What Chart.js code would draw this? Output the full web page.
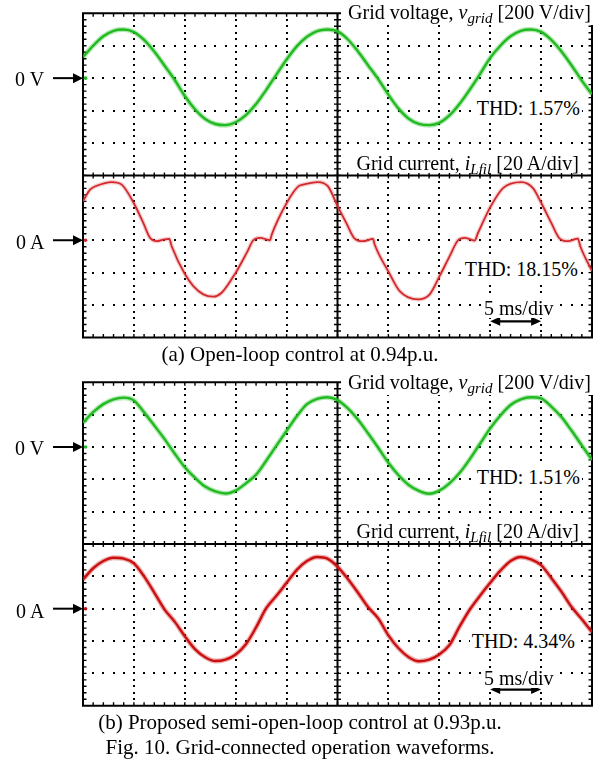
<!DOCTYPE html>
<html>
<head>
<meta charset="utf-8">
<script src="https://cdn.jsdelivr.net/npm/chart.js@4.4.1/dist/chart.umd.min.js"></script>
<style>
  html, body { margin: 0; padding: 0; background: #fff; }
  #page { position: relative; width: 606px; height: 760px; overflow: hidden;
          font-family: "Liberation Serif", "Times New Roman", serif; color: #000; background: #fff; }
  canvas { position: absolute; left: 0; }
  .t { position: absolute; font-size: 20px; line-height: 20px; white-space: nowrap; }
  .w { background: #fff; }
  .sub { font-style: italic; font-size: 15px; vertical-align: -4px; line-height: 0; }
  .cap { position: absolute; left: 0; width: 600px; text-align: center; font-size: 21px;
         line-height: 21px; white-space: nowrap; }
</style>
</head>
<body>
<div id="page">
  <canvas id="scopeA" width="606" height="365" style="top:0"></canvas>
  <canvas id="scopeB" width="606" height="395" style="top:365px"></canvas>

  <!-- (a) open-loop -->
  <div class="t" style="left:15px;top:69px">0 V</div>
  <div class="t" style="left:16px;top:232px">0 A</div>
  <div class="t w" style="right:0;top:-1px;padding:3px 15px 3px 7px">Grid voltage, <i>v</i><span class="sub">grid</span> [200 V/div]</div>
  <div class="t w" style="right:24px;top:96px;padding:2px">THD: 1.57%</div>
  <div class="t w" style="right:23px;top:151px;padding:2px 4px 0 6px">Grid current, <i>i</i><span class="sub">Lfil</span> [20 A/div]</div>
  <div class="t w" style="right:26px;top:257px;padding:2px">THD: 18.15%</div>
  <div class="t w" style="left:482px;top:298px;padding:0 2px">5 ms/div</div>
  <div class="cap" style="top:344px">(a) Open-loop control at 0.94p.u.</div>

  <!-- (b) semi-open-loop -->
  <div class="t" style="left:15px;top:438px">0 V</div>
  <div class="t" style="left:16px;top:601px">0 A</div>
  <div class="t w" style="right:0;top:369px;padding:3px 15px 3px 7px">Grid voltage, <i>v</i><span class="sub">grid</span> [200 V/div]</div>
  <div class="t w" style="right:24px;top:465px;padding:2px">THD: 1.51%</div>
  <div class="t w" style="right:23px;top:519px;padding:2px 4px 0 6px">Grid current, <i>i</i><span class="sub">Lfil</span> [20 A/div]</div>
  <div class="t w" style="right:29px;top:629px;padding:2px">THD: 4.34%</div>
  <div class="t w" style="left:482px;top:668px;padding:0 2px">5 ms/div</div>
  <div class="cap" style="top:712px">(b) Proposed semi-open-loop control at 0.93p.u.</div>
  <div class="cap" style="top:737px">Fig. 10. Grid-connected operation waveforms.</div>
</div>

<script>
// ---- sample times [ms] for the 1 ms records ----
const timeMs = [0,1,2,3,4,5,6,7,8,9,10,11,12,13,14,15,16,17,18,19,20,21,22,23,24,25,
                26,27,28,29,30,31,32,33,34,35,36,37,38,39,40,41,42,43,44,45,46,47,48,49,50];

// ---- (a) open-loop control ----
// grid voltage [V]
const vGridA = [130,200,258,292,300,284,236,164,78,-10,-110,-192,-252,-283,-290,-272,-228,-160,-72,22,
                115,196,255,290,300,288,240,166,80,-6,-102,-188,-250,-282,-290,-276,-230,-158,-70,25,
                125,200,258,292,300,285,236,165,78,-15,-100];
// filter current [A] (irregular sampling around the crossover shelves)
const tCurA = [0,0.69,1.35,2.82,3.80,4.98,5.92,6.58,7.24,7.89,8.48,8.71,10.02,10.84,11.82,12.80,13.62,15.0,
               16.08,16.73,17.39,18.37,18.54,20.01,21.15,21.61,23.08,24.07,25.02,25.86,26.69,27.50,28.49,28.65,
               30.06,31.11,32.91,34.06,35.04,36.02,36.84,37.49,38.47,38.80,40.05,41.26,43.06,44.20,45.02,
               46.00,46.83,47.64,48.62,48.85,50];
const iLfilA = [24,31.2,33.6,35.9,34.3,23,10.7,1.5,-0.6,0.4,0.8,-3.7,-21,-28.3,-33.4,-34.8,-32.4,-20,
                -7.8,0,1.5,0,3.5,23,33.2,34.3,35.9,33.2,20.9,10.7,1,-0.6,0.8,-2.6,
                -20,-31.4,-36.5,-33.4,-22,-9.8,0,1.5,-0.2,4.5,20.9,32.2,35.9,32.2,23,
                10.7,1,-0.6,1,-3.7,-19];

// ---- (b) proposed semi-open-loop control ----
const vGridB = [150,215,265,295,305,288,214,133,50,-40,-125,-190,-245,-275,-288,-270,-225,-172,-85,8,
                100,190,265,298,308,290,240,170,85,-5,-98,-175,-235,-272,-289,-270,-225,-160,-75,20,
                115,195,260,295,308,300,250,185,100,10,-80];
const iLfilB = [18,25,29.5,31.5,31,28,20,10,-0.4,-8,-17,-25,-30,-32.4,-31.5,-28.3,-22,-11.6,0.3,8,
                16,24,29.5,32,31,26,18.5,10,1,-6,-16.5,-24.5,-30,-32.5,-31.5,-28.3,-22.5,-11,-0.5,8,
                16,23.5,29.5,32,30.5,27,19,10.5,1,-6.5,-14.5];

// scope screen: 10 x 10 divisions, 5 ms/div; upper half 200 V/div, lower half 20 A/div
const MS_PER_DIV = 5, V_PER_DIV = 200, A_PER_DIV = 20;

const pts = (xs, ys) => xs.map((x, i) => ({ x, y: ys[i] }));

function arrowHead(ctx, tipX, y, dir, len, half) {
  ctx.beginPath();
  ctx.moveTo(tipX, y);
  ctx.lineTo(tipX - dir * len, y - half);
  ctx.lineTo(tipX - dir * len, y + half);
  ctx.closePath();
  ctx.fill();
}

const graticule = {
  id: 'graticule',
  beforeDatasetsDraw(chart) {
    const { ctx, chartArea: a, scales } = chart;
    const x = scales.x, yV = scales.yV;
    const px = t => x.getPixelForValue(t);
    const py = v => yV.getPixelForValue(v);
    ctx.save();
    ctx.fillStyle = '#000';
    const dot = (u, v) => ctx.fillRect(Math.round(u) - 1, Math.round(v) - 1, 2, 2);
    // dotted vertical division lines
    for (let t = MS_PER_DIV; t < 50; t += MS_PER_DIV) {
      if (t === 25) continue;
      for (let v = 400 - 40; v > -1600; v -= 40) dot(px(t), py(v));
    }
    // dotted horizontal division lines
    for (let v = 400 - V_PER_DIV; v > -1600; v -= V_PER_DIV) {
      if (v === -600) continue;
      for (let t = 1; t < 50; t += 1) dot(px(t), py(v));
    }
    ctx.strokeStyle = '#000';
    ctx.lineWidth = 1.4;
    ctx.beginPath();
    // minor ticks on the frame and on the centre axes
    for (let t = 1; t < 50; t += 1) {
      const u = px(t);
      ctx.moveTo(u, a.top); ctx.lineTo(u, a.top + 3.5);
      ctx.moveTo(u, a.bottom); ctx.lineTo(u, a.bottom - 3.5);
      const c = py(-600);
      ctx.moveTo(u, c - 3); ctx.lineTo(u, c + 3);
    }
    for (let v = 400 - 40; v > -1600; v -= 40) {
      const w = py(v);
      ctx.moveTo(a.left, w); ctx.lineTo(a.left + 3.5, w);
      ctx.moveTo(a.right, w); ctx.lineTo(a.right - 3.5, w);
      const c = px(25);
      ctx.moveTo(c - 3.5, w); ctx.lineTo(c + 3.5, w);
    }
    ctx.stroke();
    // centre axes and frame
    ctx.lineWidth = 2;
    ctx.beginPath();
    ctx.moveTo(px(25), a.top); ctx.lineTo(px(25), a.bottom);
    ctx.moveTo(a.left, py(-600)); ctx.lineTo(a.right, py(-600));
    ctx.rect(a.left, a.top, a.right - a.left, a.bottom - a.top);
    ctx.stroke();
    ctx.restore();
  },
  afterDraw(chart) {
    const { ctx, chartArea: a, scales } = chart;
    const x = scales.x, yV = scales.yV, yI = scales.yI;
    const colors = chart.options.plugins.graticule;
    ctx.save();
    ctx.strokeStyle = '#000';
    ctx.lineWidth = 2;
    // ground reference arrows
    [[yV.getPixelForValue(0), colors.vColor], [yI.getPixelForValue(0), colors.iColor]].forEach(([y, c]) => {
      ctx.fillStyle = '#000';
      ctx.beginPath(); ctx.moveTo(53, y); ctx.lineTo(a.left - 7, y); ctx.stroke();
      arrowHead(ctx, a.left, y, 1, 10, 5);
      ctx.fillStyle = c;
      ctx.beginPath(); ctx.arc(a.left + 2.5, y, 1.8, 0, Math.PI * 2); ctx.fill();
    });
    // time-base arrow (one division)
    ctx.fillStyle = '#000';
    ctx.lineWidth = 2.2;
    const y = yI.getPixelForValue(-50);
    const x0 = x.getPixelForValue(40), x1 = x.getPixelForValue(40 + MS_PER_DIV);
    ctx.beginPath(); ctx.moveTo(x0 + 6, y); ctx.lineTo(x1 - 6, y); ctx.stroke();
    arrowHead(ctx, x0, y, -1, 10, 4.5);
    arrowHead(ctx, x1, y, 1, 10, 4.5);
    ctx.restore();
  }
};

function trace(data, axis, color, width) {
  return { data, yAxisID: axis, borderColor: color, borderWidth: width, pointRadius: 0,
           cubicInterpolationMode: 'monotone', fill: false };
}

function makeScope(id, padTop, padBottom, vData, iData, vCol, iCol, iHalo, iWidth) {
  new Chart(document.getElementById(id), {
    type: 'line',
    data: {
      datasets: [
        trace(vData, 'yV', 'rgba(40,190,40,0.35)', 5),
        trace(vData, 'yV', vCol, 2.4),
        trace(iData, 'yI', iHalo, iWidth + 2.5),
        trace(iData, 'yI', iCol, iWidth)
      ]
    },
    options: {
      responsive: false,
      animation: false,
      events: [],
      layout: { padding: { left: 83, right: 14, top: padTop, bottom: padBottom } },
      plugins: { legend: { display: false }, tooltip: { enabled: false },
                 graticule: { vColor: vCol, iColor: iCol } },
      scales: {
        x: { type: 'linear', min: 0, max: 10 * MS_PER_DIV, display: false },
        yV: { type: 'linear', min: 400 - 10 * V_PER_DIV, max: 400, display: false },
        yI: { type: 'linear', min: -60, max: -60 + 10 * A_PER_DIV, display: false }
      }
    },
    plugins: [graticule]
  });
}

makeScope('scopeA', 13.3, 27.5, pts(timeMs, vGridA), pts(tCurA, iLfilA),
          'rgb(30,185,30)', 'rgb(210,35,40)', 'rgba(215,60,60,0.25)', 1.8);
makeScope('scopeB', 17.3, 54.3, pts(timeMs, vGridB), pts(timeMs, iLfilB),
          'rgb(30,185,30)', 'rgb(200,10,10)', 'rgba(205,30,30,0.35)', 2.4);
</script>
</body>
</html>
